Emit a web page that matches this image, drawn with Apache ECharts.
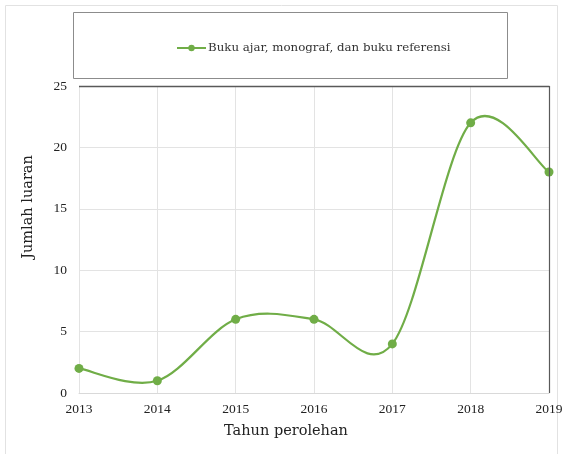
<!DOCTYPE html>
<html>
<head>
<meta charset="utf-8">
<script src="https://cdn.jsdelivr.net/npm/echarts@6/dist/echarts.min.js"></script>
<style>
  html, body { margin: 0; padding: 0; background: #fff; }
  #chart { width: 566px; height: 454px; }
</style>
</head>
<body>
<div id="chart"></div>
<script>
// Years on the horizontal axis and the yearly counts
const years = ['2013', '2014', '2015', '2016', '2017', '2018', '2019'];
const counts = [2, 1, 6, 6, 4, 22, 18];
const seriesName = 'Buku ajar, monograf, dan buku referensi';
const yTicks = [0, 5, 10, 15, 20, 25];
const xTitle = 'Tahun perolehan';
const yTitle = 'Jumlah luaran';

const TICK_FONT = '"Liberation Serif", serif';
const TEXT_FONT = '"DejaVu Serif", serif';
const GREEN = '#70ad47';

const chart = echarts.init(document.getElementById('chart'), null, { renderer: 'canvas' });

// Catmull-Rom style cubic Bezier through the pixel positions of the points
function smoothPath(pts) {
  let d = 'M' + pts[0][0] + ',' + pts[0][1];
  for (let i = 0; i < pts.length - 1; i++) {
    const p0 = pts[i], p1 = pts[i + 1];
    const prev = pts[i - 1] || p0;
    const next = pts[i + 2] || p1;
    const c1x = p0[0] + (p1[0] - prev[0]) / 6;
    const c1y = p0[1] + (p1[1] - prev[1]) / 6;
    const c2x = p1[0] - (next[0] - p0[0]) / 6;
    const c2y = p1[1] - (next[1] - p0[1]) / 6;
    d += ' C' + c1x + ',' + c1y + ' ' + c2x + ',' + c2y + ' ' + p1[0] + ',' + p1[1];
  }
  return d;
}

chart.setOption({
  animation: false,
  backgroundColor: '#ffffff',
  graphic: [
    // outer frame
    { type: 'rect', shape: { x: 5.5, y: 5.5, width: 552, height: 460 },
      style: { fill: 'none', stroke: '#e2e2e2', lineWidth: 1 }, z: -1 },
    // legend box
    { type: 'rect', shape: { x: 73.5, y: 12.5, width: 434, height: 66 },
      style: { fill: 'none', stroke: '#8c8c8c', lineWidth: 1 } },
    // plot top border
    { type: 'line', shape: { x1: 79, y1: 86.5, x2: 549.5, y2: 86.5 },
      style: { stroke: '#595959', lineWidth: 1.5 }, z: 10 },
    // plot right border
    { type: 'line', shape: { x1: 549.5, y1: 86, x2: 549.5, y2: 393 },
      style: { stroke: '#595959', lineWidth: 1.2 }, z: 10 },
    // axis titles
    { type: 'text', x: 286, y: 431, z: 10,
      style: { text: xTitle, font: '14.5px ' + TEXT_FONT, fill: '#222',
               align: 'center', verticalAlign: 'middle' } },
    { type: 'text', x: 28, y: 207, rotation: Math.PI / 2, z: 10,
      style: { text: yTitle, font: '14.5px ' + TEXT_FONT, fill: '#222',
               align: 'center', verticalAlign: 'middle' } }
  ],
  legend: {
    top: 37,
    left: 171,
    data: [seriesName],
    itemWidth: 29,
    itemHeight: 8,
    itemGap: 4,
    textStyle: { fontFamily: TEXT_FONT, fontSize: 11.8, color: '#333', padding: [0, 0, 0, -3] },
    lineStyle: { color: GREEN, width: 2, opacity: 1 },
    itemStyle: { color: GREEN, opacity: 1 }
  },
  grid: { left: 79, right: 17, top: 86, bottom: 61, containLabel: false },
  xAxis: {
    type: 'category',
    data: years,
    boundaryGap: false,
    axisLine: { show: true, lineStyle: { color: '#d9d9d9', width: 1 } },
    axisTick: { show: false },
    axisLabel: { fontFamily: TICK_FONT, fontSize: 13.5, color: '#222', margin: 9 },
    splitLine: { show: true, lineStyle: { color: '#e3e3e3', width: 1 } }
  },
  yAxis: {
    type: 'value',
    min: yTicks[0],
    max: yTicks[yTicks.length - 1],
    interval: yTicks[1] - yTicks[0],
    axisLine: { show: false },
    axisTick: { show: false },
    axisLabel: { fontFamily: TICK_FONT, fontSize: 13.5, color: '#222', margin: 12 },
    splitLine: { show: true, lineStyle: { color: '#e3e3e3', width: 1 } }
  },
  series: [
    {
      // smoothed curve, built from the axis coordinates of every value
      type: 'custom',
      data: counts.map((v, i) => [i, v]),
      z: 4,
      silent: true,
      renderItem: function (params, api) {
        if (params.dataIndex !== 0) return null;
        const pts = counts.map((v, i) => api.coord([i, v]));
        return {
          type: 'path',
          shape: { pathData: smoothPath(pts) },
          style: { fill: 'none', stroke: GREEN, lineWidth: 2.2 }
        };
      }
    },
    {
      name: seriesName,
      type: 'line',
      data: counts,
      symbol: 'circle',
      symbolSize: 9,
      itemStyle: { color: GREEN },
      lineStyle: { color: GREEN, width: 2.2, opacity: 0 },
      z: 5
    }
  ]
});
</script>
</body>
</html>
